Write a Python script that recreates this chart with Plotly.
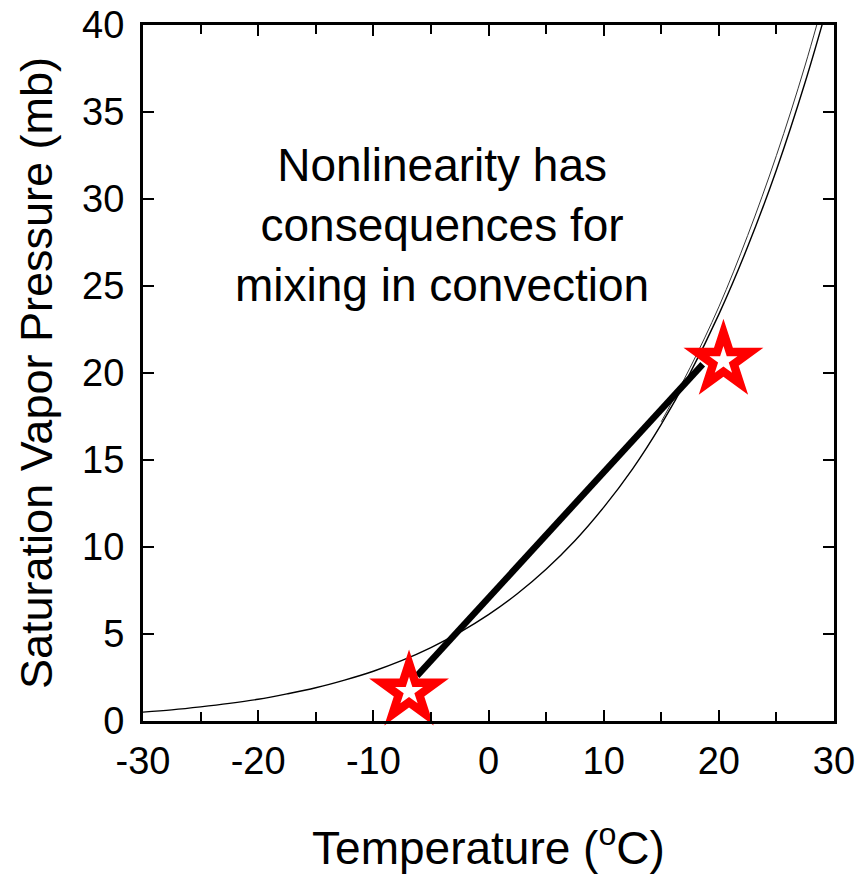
import plotly.graph_objects as go

# Saturation vapor pressure curve (deg C, mb)
temp_c = [-30, -27.5, -25, -22.5, -20, -17.5, -15, -12.5, -10, -7.5, -5, -2.5,
          0, 2.5, 5, 7.5, 10, 12.5, 15, 17.5, 20, 22.5, 25, 27.5, 30]
svp_mb = [0.51, 0.64, 0.81, 1.01, 1.25, 1.56, 1.91, 2.35, 2.86, 3.48, 4.22, 5.09,
          6.11, 7.31, 8.72, 10.36, 12.28, 14.48, 17.05, 19.99, 23.37, 27.25, 31.67, 36.72, 42.43]

# second (nearly coincident) trace visible at the warm end
temp_c2 = [15, 17.5, 20, 22.5, 25, 27.5, 30]
svp_mb2 = [17.2, 20.3, 23.8, 27.9, 32.5, 37.7, 43.6]

# mixing line between the two parcels
mix_t = [-6.2, 18.6]
mix_es = [2.6, 20.5]

# parcel markers (stars)
star_t = [-6.9, 20.4]
star_es = [1.7, 20.7]

x_ticks = [-30, -20, -10, 0, 10, 20, 30]
y_ticks = [0, 5, 10, 15, 20, 25, 30, 35, 40]

FONT = "Liberation Sans, Arial, sans-serif"

fig = go.Figure()
fig.add_trace(go.Scatter(x=temp_c, y=svp_mb, mode="lines", line=dict(color="black", width=1.4, shape="spline"),
                         hoverinfo="skip", showlegend=False))
fig.add_trace(go.Scatter(x=temp_c2, y=svp_mb2, mode="lines", line=dict(color="#333", width=1.0, shape="spline"),
                         hoverinfo="skip", showlegend=False))
fig.add_trace(go.Scatter(x=mix_t, y=mix_es, mode="lines", line=dict(color="black", width=6.5),
                         showlegend=False))
fig.add_trace(go.Scatter(x=star_t, y=star_es, mode="markers",
                         marker=dict(symbol="star", size=60, color="#ff0000", line=dict(width=0)),
                         showlegend=False, cliponaxis=False))
fig.add_trace(go.Scatter(x=star_t, y=star_es, mode="markers",
                         marker=dict(symbol="star", size=21, color="white", line=dict(width=0)),
                         showlegend=False, cliponaxis=False))

fig.add_annotation(x=-4.0, y=28.5, xref="x", yref="y",
                   text="Nonlinearity has<br>consequences for<br>mixing in convection",
                   showarrow=False, align="center", font=dict(family=FONT, size=46, color="black"))

axis_common = dict(showline=True, linecolor="black", linewidth=3, mirror="ticks",
                   ticks="inside", ticklen=11, tickwidth=2, tickcolor="black",
                   showgrid=False, zeroline=False,
                   tickfont=dict(family=FONT, size=38, color="black"))

fig.update_xaxes(range=[-30, 30], tickvals=x_ticks, ticktext=[str(v) for v in x_ticks],
                 minor=dict(dtick=5, ticks="inside", ticklen=9, tickwidth=2, tickcolor="black"),
                 ticklabelstandoff=4,
                 title=dict(text="Temperature (<sup>o</sup>C)", font=dict(family=FONT, size=46, color="black"),
                            standoff=52),
                 **axis_common)
fig.update_yaxes(range=[0, 40], tickvals=y_ticks, ticktext=[str(v) for v in y_ticks],
                 ticklabelstandoff=8,
                 title=dict(text="Saturation Vapor Pressure (mb)", font=dict(family=FONT, size=45, color="black"),
                            standoff=16),
                 **axis_common)

fig.update_layout(width=865, height=874, plot_bgcolor="white", paper_bgcolor="white",
                  margin=dict(l=143, r=31, t=25, b=153, autoexpand=False),
                  font=dict(family=FONT, color="black"))

fig.write_html("out.html")
